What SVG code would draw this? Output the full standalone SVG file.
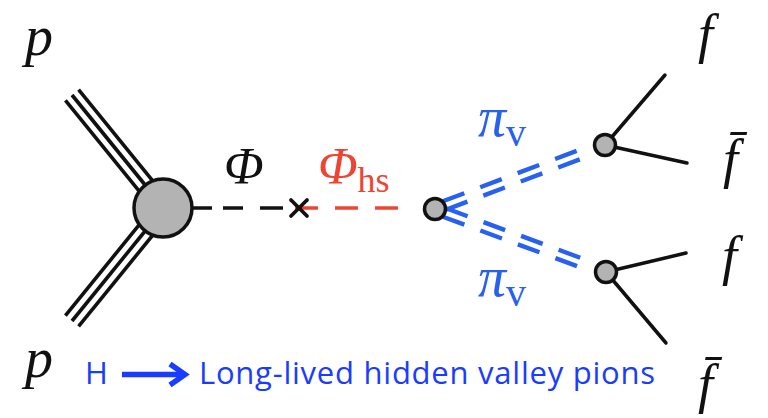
<svg xmlns="http://www.w3.org/2000/svg" width="768" height="418" viewBox="0 0 768 418">
<style>
.math{font-family:"Liberation Serif","DejaVu Serif",serif;font-style:italic}
.rm{font-family:"Liberation Serif","DejaVu Serif",serif}
.blk{fill:#111}
.red{fill:#ee4433}
.blue{fill:#2860f0}
.cap{font-family:"Open Sans","DejaVu Sans",sans-serif;font-size:31px;fill:#1a3cff}
.tri{stroke:#111;stroke-width:3.6;fill:none}
.dashk{stroke:#111;stroke-width:3.5;fill:none}
.dashr{stroke:#ee4433;stroke-width:3.5;fill:none;stroke-dasharray:23 17}
.dashb{stroke:#2860f0;stroke-width:4.4;fill:none;stroke-dasharray:23 17}
.ferm{stroke:#111;stroke-width:3.5;fill:none;stroke-linecap:round}
.vtx{fill:#b3b3b3;stroke:#111;stroke-width:3.5}
</style>
<rect width="768" height="418" fill="#fff"/>
<g id="connectors">
  <g id="proton-top">
    <line class="tri" x1="78.6" y1="89.6" x2="169.6" y2="201.6"/>
    <line class="tri" x1="72" y1="95" x2="163" y2="207"/>
    <line class="tri" x1="65.4" y1="100.4" x2="156.4" y2="212.4"/>
  </g>
  <g id="proton-bottom">
    <line class="tri" x1="78.6" y1="326.4" x2="169.6" y2="214.4"/>
    <line class="tri" x1="72" y1="321" x2="163" y2="209"/>
    <line class="tri" x1="65.4" y1="315.6" x2="156.4" y2="203.6"/>
  </g>
  <g id="phi-line">
    <line class="dashk" x1="190" y1="208" x2="212" y2="208"/>
    <line class="dashk" x1="223" y1="208" x2="243" y2="208"/>
    <line class="dashk" x1="260" y1="208" x2="283" y2="208"/>
  </g>
  <line id="phihs-line" class="dashr" x1="295" y1="208" x2="400" y2="208"/>
  <g id="piv-top">
    <line class="dashb" x1="445.9" y1="209.7" x2="581.7" y2="158.6"/>
    <line class="dashb" x1="442.8" y1="201.3" x2="578.5" y2="150.2"/>
  </g>
  <g id="piv-bottom">
    <line class="dashb" x1="442.8" y1="216.7" x2="578.9" y2="266.8"/>
    <line class="dashb" x1="446.0" y1="208.3" x2="582.1" y2="258.4"/>
  </g>
  <g id="fermions">
    <line class="ferm" x1="605" y1="145" x2="665" y2="75"/>
    <line class="ferm" x1="605" y1="145" x2="687" y2="163"/>
    <line class="ferm" x1="606" y1="272" x2="686" y2="253"/>
    <line class="ferm" x1="606" y1="272" x2="666" y2="343"/>
  </g>
</g>
<g id="cross">
  <line x1="291" y1="200" x2="307" y2="216" stroke="#111" stroke-width="3.8" stroke-linecap="round"/>
  <line x1="291" y1="216" x2="307" y2="200" stroke="#111" stroke-width="3.8" stroke-linecap="round"/>
</g>
<g id="vertex-main"><circle class="vtx" cx="163" cy="208" r="29"/></g>
<g id="vertex-hs"><circle class="vtx" cx="435" cy="209" r="10.5"/></g>
<g id="vertex-top"><circle class="vtx" cx="605" cy="145" r="10.5"/></g>
<g id="vertex-bottom"><circle class="vtx" cx="606" cy="272" r="10.5"/></g>
<g id="labels">
  <text class="math blk" x="25" y="55" font-size="56">p</text>
  <text class="math blk" x="25" y="377" font-size="56">p</text>
  <text class="math blk" x="224" y="184" font-size="52">Φ</text>
  <text class="red" x="318" y="184"><tspan class="math" font-size="52">Φ</tspan><tspan class="rm" font-size="36" dy="8">hs</tspan></text>
  <text class="blue" x="478" y="136"><tspan class="math" font-size="56">π</tspan><tspan class="rm" font-size="40" dy="10">v</tspan></text>
  <text class="blue" x="478" y="296"><tspan class="math" font-size="56">π</tspan><tspan class="rm" font-size="40" dy="10">v</tspan></text>
  <text class="math blk" x="698" y="52" font-size="54">f</text>
  <text class="math blk" x="723" y="177" font-size="54">f̄</text>
  <text class="math blk" x="722" y="274" font-size="54">f</text>
  <text class="math blk" x="698" y="402" font-size="54">f̄</text>
</g>
<g id="caption">
  <text class="cap" x="85" y="384">H</text>
  <g id="caption-arrow" stroke="#1a3cff" stroke-width="5.5" fill="none">
    <line x1="122" y1="374.5" x2="184" y2="374.5"/>
    <polyline points="170,364 185,374.5 170,385" stroke-linejoin="miter"/>
  </g>
  <text class="cap" x="199" y="384" textLength="456" lengthAdjust="spacing">Long-lived hidden valley pions</text>
</g>
</svg>
